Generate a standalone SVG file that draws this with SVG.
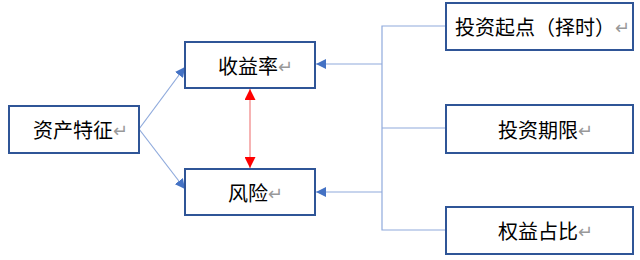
<svg xmlns="http://www.w3.org/2000/svg" width="640" height="260" viewBox="0 0 640 260">
<defs>
<marker id="ab" viewBox="0 0 10 10" refX="10" refY="5" markerWidth="10" markerHeight="10" markerUnits="userSpaceOnUse" orient="auto">
<path d="M0,0 L10,5 L0,10 Z" fill="#4472C4"/>
</marker>
<marker id="ar" viewBox="0 0 10 10" refX="10" refY="5" markerWidth="11" markerHeight="11" markerUnits="userSpaceOnUse" orient="auto-start-reverse">
<path d="M0,0 L10,5 L0,10 Z" fill="#FF0000"/>
</marker>
<style>
.box{fill:#fff;stroke:#2F5597;stroke-width:2}
.t{font-family:"Noto Sans CJK SC","Liberation Sans",sans-serif;font-size:20px;fill:#000;dominant-baseline:central}
.r{fill:#999;font-size:18px}
.ln{fill:none;stroke:#8FAADC;stroke-width:1.2}
</style>
</defs>
<rect width="640" height="260" fill="#fff"/>
<g id="connectors">
<path class="ln" d="M139,129 L185,67" marker-end="url(#ab)"/>
<path class="ln" d="M139,129 L185,189" marker-end="url(#ab)"/>
<path class="ln" d="M446,26 L382,26 L382,230 L446,230"/>
<path class="ln" d="M382,128 L446,128"/>
<path class="ln" d="M382,64 L316,64" marker-end="url(#ab)"/>
<path class="ln" d="M382,192 L316,192" marker-end="url(#ab)"/>
<path d="M250,89 L250,168" stroke="#F08080" stroke-width="1.2" marker-start="url(#ar)" marker-end="url(#ar)"/>
</g>
<g id="node-asset">
<rect class="box" x="9" y="106" width="130" height="47"/>
<text class="t" x="33" y="129">资产特征<tspan class="r">↵</tspan></text>
</g>
<g id="node-return">
<rect class="box" x="185" y="42" width="130" height="46"/>
<text class="t" x="218" y="65">收益率<tspan class="r">↵</tspan></text>
</g>
<g id="node-risk">
<rect class="box" x="185" y="169" width="130" height="46"/>
<text class="t" x="228" y="192">风险<tspan class="r">↵</tspan></text>
</g>
<g id="node-start">
<rect class="box" x="446" y="3" width="187" height="47"/>
<text class="t" x="455" y="26">投资起点（择时）<tspan class="r">↵</tspan></text>
</g>
<g id="node-period">
<rect class="box" x="446" y="105" width="187" height="48"/>
<text class="t" x="498" y="129">投资期限<tspan class="r">↵</tspan></text>
</g>
<g id="node-equity">
<rect class="box" x="446" y="207" width="187" height="47"/>
<text class="t" x="498" y="230">权益占比<tspan class="r">↵</tspan></text>
</g>
</svg>
